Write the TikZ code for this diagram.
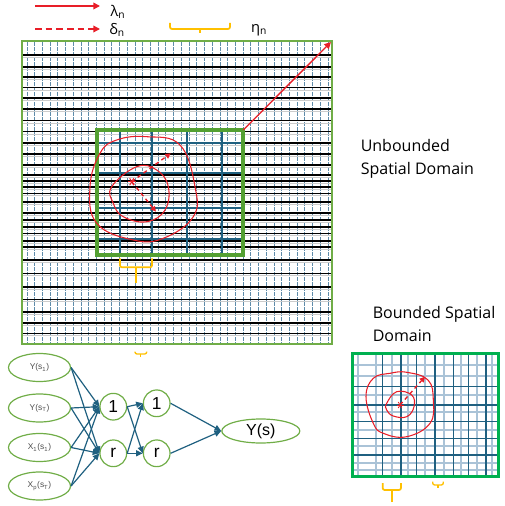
\documentclass[tikz,border=0pt]{standalone}
\usepackage{fontspec}
\setmainfont{Liberation Sans}
\newfontfamily\aptos{Open Sans}
\usetikzlibrary{arrows.meta,shapes.geometric}
\definecolor{netblue}{RGB}{31,96,128}
\definecolor{boxgreen}{RGB}{112,173,71}
\definecolor{innergreen}{RGB}{84,160,50}
\definecolor{bgreen}{RGB}{0,176,80}
\definecolor{bracegold}{RGB}{255,192,0}
\definecolor{lightgrid}{RGB}{170,195,215}
\definecolor{dotblue}{RGB}{95,140,170}
\definecolor{contred}{RGB}{232,30,40}
\begin{document}
\begin{tikzpicture}[x=0.75pt, y=-0.75pt,
    brace/.style={draw=bracegold, line width=1.3pt, rounded corners=1.5pt},
    contour/.style={draw=contred, line width=0.8pt},
    rangearrow/.style={contred, line width=1pt, dash pattern=on 3pt off 2.5pt, -{Triangle[length=4pt,width=4pt]}},
    inputnode/.style={ellipse, draw=boxgreen, line width=0.9pt, minimum width=46.5pt, minimum height=21pt, inner sep=0pt, text=black!70, font=\fontsize{6.3}{7}\selectfont},
    neuron/.style={circle, draw=boxgreen, line width=0.9pt, minimum size=20pt, inner sep=0pt, font=\fontsize{13}{14}\selectfont},
    outnode/.style={ellipse, draw=boxgreen, line width=0.9pt, minimum width=58.5pt, minimum height=18pt, inner sep=0pt, font=\fontsize{12}{13}\selectfont},
    link/.style={draw=netblue, line width=0.9pt, -{Triangle[length=5pt,width=4.5pt]}}]
    \useasboundingbox (0,0) rectangle (505,506);
    % Legend
    \coordinate (lam-a) at (35,6); \coordinate (lam-b) at (100,6);
    \coordinate (del-a) at (35,29); \coordinate (del-b) at (100,29);
    \draw[contred, line width=1.1pt, -{Triangle[length=5pt,width=5pt]}] (lam-a) -- (lam-b);
    \draw[contred, line width=1.1pt, dash pattern=on 5pt off 3pt, -{Triangle[length=5pt,width=5pt]}] (del-a) -- (del-b);
    \node[font=\aptos\fontsize{11}{12}\selectfont] (lambda) at (118,12) {λ\textsubscript{n}};
    \node[font=\aptos\fontsize{11}{12}\selectfont] (delta) at (117,30) {δ\textsubscript{n}};
    \node[font=\aptos\fontsize{11}{12}\selectfont] (eta) at (259,30) {η\textsubscript{n}};
    \draw[brace] (170,23) -- (170,29) -- (230,29) -- (230,23); \draw[brace] (200,29) -- (200,33.5);
    % Unbounded domain
    \foreach \i in {0,...,39} \draw[dotblue, line width=0.75pt, dash pattern=on 3pt off 0.75pt] (27+\i*7.72,42) -- (27+\i*7.72,343);
    \foreach \y in {55,67.3,77.3,87.7,98.3,109,120.7,131.7,143.3,154,165,175,180.7,186.7,193.3,201.7,212.7,220,226.7,233.3,240.7,246.7,260,273.3,286.7,299.3,311.7,322.7,333.3} {
        \draw[black, line width=1.2pt] (22,\y) -- (332,\y);
        \draw[gray!40, line width=0.6pt] (22,\y+2.5) -- (332,\y+2.5);
    }
    \draw[boxgreen, line width=1.3pt] (22,41) rectangle (332,344);
    % Zoomed window
    \foreach \x in {120,151.7,187.3,221.7} \draw[netblue, line width=1.5pt] (\x,130) -- (\x,255);
    \foreach \y in {143.3,173.3,207.7,239.3} \draw[netblue, line width=1.5pt] (96.7,\y) -- (243.3,\y);
    \draw[innergreen, line width=3pt] (96.7,130) rectangle (243.3,255);
    \coordinate (win-ne) at (243.3,130); \coordinate (dom-ne) at (331,42);
    \draw[contred, line width=1pt, -{Triangle[length=5pt,width=5pt]}] (win-ne) -- (dom-ne);
    \draw[contour] plot[smooth cycle, tension=0.7] coordinates {(146.7,136.7) (180,145) (195,186.7) (193.3,216.7) (163.3,238.3) (133.3,240) (96.7,223.3) (90,186.7) (100,153.3) (116.7,140)};
    \draw[contour] plot[smooth cycle, tension=0.7] coordinates {(111.7,186.7) (136.7,166.7) (156.7,170) (168.3,186.7) (165,210) (146.7,221.7) (123.3,216.7) (113.3,203.3)};
    \coordinate (ctr) at (131.7,181.7);
    \coordinate (reach-1) at (170.7,153.3); \coordinate (reach-2) at (156,211.7);
    \foreach \a in {0,60,120} \draw[contred, line width=0.7pt] (ctr) ++(\a:4) -- ++(\a+180:8);
    \draw[rangearrow] (ctr) -- (reach-1);
    \draw[rangearrow] (ctr) -- (reach-2);
    \draw[brace] (120,258.3) -- (120,267.3) -- (152,267.3) -- (152,258.3); \draw[brace] (136,267.3) -- (136,283.3);
    \draw[brace, line width=1pt] (135,351.5) -- (135,354) -- (146.7,354) -- (146.7,351.5); \draw[brace, line width=1pt] (140.8,354) -- (140.8,356.5);
    \node[anchor=north west, align=left, inner sep=0pt, font=\aptos\fontsize{12}{17}\selectfont] (unb-label) at (360.5,139) {Unbounded\\Spatial Domain};
    % Bounded domain
    \foreach \x in {358,376,392,408,425,444,461,477,492} \draw[lightgrid, line width=0.8pt] (\x,353.3) -- (\x,476.7);
    \foreach \y in {365,376,395,412,430,446,463,470} \draw[lightgrid, line width=0.8pt] (352.7,\y) -- (498.3,\y);
    \foreach \x in {382.7,401,416.7,435,453.3,468.3,486} \draw[netblue, line width=1pt] (\x,353.3) -- (\x,476.7);
    \foreach \y in {386.7,405,421.7,438.3,455} \draw[netblue, line width=1pt] (352.7,\y) -- (498.3,\y);
    \draw[bgreen, line width=2.6pt] (352.7,353.3) rectangle (498.3,476.7);
    \draw[contour] plot[smooth cycle, tension=0.7] coordinates {(406.7,372.3) (428,380) (433.3,400) (430,423.3) (406.7,436.7) (383.3,433.3) (373.3,423.3) (366,396.7) (373.3,378.3) (390,373.3)};
    \draw[contour] plot[smooth cycle, tension=0.7] coordinates {(386.7,403.3) (396.7,391.7) (411.7,395) (414,406.7) (406.7,416.7) (393.3,416) (386.7,410)};
    \coordinate (bctr) at (400,405); \coordinate (breach) at (425,376.7);
    \foreach \a in {0,60,120} \draw[contred, line width=0.6pt] (bctr) ++(\a:3.5) -- ++(\a+180:7);
    \draw[rangearrow] (bctr) -- (breach);
    \draw[brace] (382.7,483) -- (382.7,490) -- (401,490) -- (401,483); \draw[brace] (391.8,490) -- (391.8,501.7);
    \draw[brace, line width=1pt] (432.7,481.7) -- (432.7,485) -- (443.3,485) -- (443.3,481.7); \draw[brace, line width=1pt] (438,485) -- (438,488);
    \node[anchor=north west, align=left, inner sep=0pt, font=\aptos\fontsize{12}{17}\selectfont] (bnd-label) at (372.5,306) {Bounded Spatial\\Domain};
    % Input Layer
    \foreach \l/\yy [count=\m] in {{Y(s\textsubscript{1})}/367.5, {Y(s\textsubscript{T})}/408, {X\textsubscript{1}(s\textsubscript{1})}/447.5, {X\textsubscript{p}(s\textsubscript{T})}/486} \node[inputnode] (input-\m) at (39.5,\yy) {\l};
    % Hidden Layers
    \foreach \m/\yy in {1/406.7, r/453.3} \node[neuron] (hidden-\m) at (113.3,\yy) {\m};
    \foreach \m/\yy in {1/403.3, r/453.3} \node[neuron] (deep-\m) at (156.7,\yy) {\m};
    % Output Layer
    \node[outnode] (output) at (260.8,431) {Y(s)};
    % Connect the layers
    \foreach \i in {1,...,4} \foreach \j in {1,r} \draw[link] (input-\i.east) -- (hidden-\j.west);
    \foreach \i in {1,r} \foreach \j in {1,r} \draw[link] (hidden-\i.east) -- (deep-\j.west);
    \foreach \i in {1,r} \draw[link] (deep-\i.east) -- (output.west);
\end{tikzpicture}
\end{document}
